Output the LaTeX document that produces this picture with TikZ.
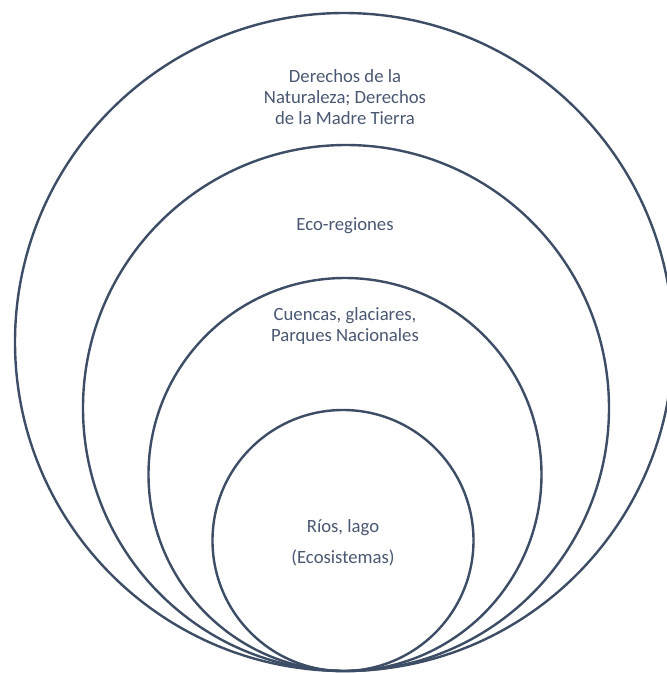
\documentclass[tikz,border=0pt]{standalone}
\usepackage{fontspec}
\setmainfont{Carlito}
\definecolor{ringcol}{HTML}{3E4D66}
\definecolor{txtcol}{HTML}{4A5872}
\begin{document}
\begin{tikzpicture}[x=1pt,y=-1pt,
  ring/.style={draw=ringcol,line width=2.4pt},
  lbl/.style={text=txtcol,font=\fontsize{18.7}{21}\selectfont,align=center,inner sep=0pt}]
\useasboundingbox (0,0) rectangle (667,673);
\clip (0,0) rectangle (667,673);
\fill[white] (0,0) rectangle (667,673);
\draw[ring] (344,342) circle (329);
\draw[ring] (346,408) circle (263);
\draw[ring] (345,474.5) circle (196.5);
\draw[ring] (343,540.5) circle (130.5);
\node[lbl] (outer) at (345,97) {Derechos de la\\Naturaleza; Derechos\\de la Madre Tierra};
\node[lbl] (eco) at (345,226) {Eco-regiones};
\node[lbl] (cuencas) at (345,326) {Cuencas, glaciares,\\Parques Nacionales};
\node[lbl] (rios) at (343,528) {Ríos, lago};
\node[lbl] (ecos) at (343,558) {(Ecosistemas)};
\end{tikzpicture}
\end{document}
